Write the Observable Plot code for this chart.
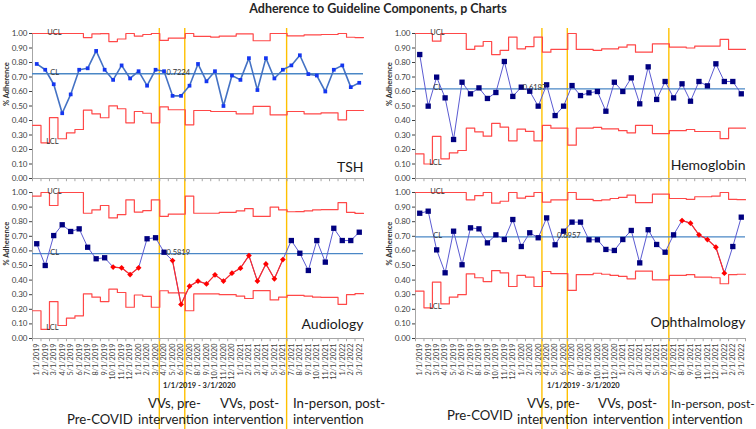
<!DOCTYPE html>
<html><head><meta charset="utf-8">
<script src="https://cdn.jsdelivr.net/npm/d3@7"></script>
<script src="https://cdn.jsdelivr.net/npm/@observablehq/plot@0.6"></script>
<style>
html,body{margin:0;padding:0;background:#fff;}
#chart{position:relative;width:756px;height:429px;overflow:hidden;background:#fff;font-family:Lato,"Open Sans",sans-serif;}
</style></head><body>
<div id="chart"></div>
<script>
// ---------- data ----------
const months = ["1/1/2019","2/1/2019","3/1/2019","4/1/2019","5/1/2019","6/1/2019","7/1/2019","8/1/2019","9/1/2019","10/1/2019","11/1/2019","12/1/2019",
"1/1/2020","2/1/2020","3/1/2020","4/1/2020","5/1/2020","6/1/2020","7/1/2020","8/1/2020","9/1/2020","10/1/2020","11/1/2020","12/1/2020",
"1/1/2021","2/1/2021","3/1/2021","4/1/2021","5/1/2021","6/1/2021","7/1/2021","8/1/2021","9/1/2021","10/1/2021","11/1/2021","12/1/2021",
"1/1/2022","2/1/2022","3/1/2022"];
const yTicks = [0,0.1,0.2,0.3,0.4,0.5,0.6,0.7,0.8,0.9,1.0];
const phaseStarts = ["4/1/2020","7/1/2020","7/1/2021"];

const tshP   = [0.79,0.75,0.65,0.45,0.58,0.75,0.76,0.88,0.75,0.68,0.78,0.69,0.74,0.64,0.75,0.74,0.57,0.57,0.64,0.79,0.67,0.74,0.50,0.71,0.68,0.83,0.61,0.83,0.69,0.75,0.78,0.85,0.72,0.71,0.60,0.75,0.78,0.63,0.66];
const tshUCL = [1,1,1,1,1,1,0.972,0.997,0.999,0.944,0.962,1,0.982,0.993,1,0.952,0.968,0.968,1,0.98,0.98,0.975,0.982,0.982,0.997,0.997,0.95,0.95,1,1,0.984,0.984,0.99,0.99,0.993,0.993,1,0.974,0.972];
const tshLCL = [0.366,0.246,0.42,0.274,0.315,0.338,0.471,0.446,0.419,0.501,0.481,0.384,0.462,0.45,0.384,0.494,0.474,0.474,0.37,0.469,0.469,0.462,0.462,0.462,0.446,0.446,0.497,0.497,0.439,0.439,0.462,0.462,0.446,0.446,0.453,0.453,0.405,0.469,0.469];
const tshCL = 0.7224;
const tshSignal = [];

const audP   = [0.649,0.50,0.705,0.779,0.733,0.751,0.625,0.546,0.553,0.489,0.484,0.438,0.484,0.683,0.69,0.591,0.534,0.233,0.358,0.393,0.374,0.436,0.393,0.447,0.482,0.568,0.393,0.511,0.409,0.541,0.671,0.584,0.466,0.671,0.523,0.755,0.671,0.671,0.728];
const audUCL = [0.975,1,0.911,1,1,1,0.858,0.881,0.911,0.826,0.849,0.95,0.866,0.876,0.95,0.837,0.852,0.852,0.975,0.858,0.858,0.858,0.864,0.864,0.874,0.89,0.836,0.836,0.9,0.881,0.868,0.869,0.874,0.881,0.883,0.883,0.93,0.864,0.857];
const audLCL = [0.19,0.062,0.253,0.089,0.139,0.155,0.306,0.283,0.253,0.338,0.315,0.214,0.298,0.288,0.214,0.327,0.312,0.312,0.19,0.306,0.306,0.306,0.3,0.3,0.29,0.274,0.328,0.328,0.264,0.283,0.296,0.295,0.29,0.283,0.281,0.281,0.234,0.3,0.307];
const audCL = 0.5819;
const audSignal = [9,10,11,12,16,17,18,19,20,21,22,23,24,25,26,27,28,29];

const hgbP   = [0.855,0.499,0.699,0.556,0.269,0.664,0.584,0.625,0.552,0.593,0.807,0.566,0.630,0.602,0.499,0.646,0.434,0.499,0.641,0.572,0.591,0.60,0.464,0.664,0.60,0.694,0.515,0.77,0.545,0.669,0.556,0.653,0.533,0.669,0.639,0.791,0.669,0.669,0.584];
const hgbUCL = [1,1,0.947,1,1,1,0.89,0.913,0.945,0.855,0.883,0.975,0.894,0.91,0.975,0.871,0.89,0.89,1,0.89,0.89,0.883,0.894,0.894,0.906,0.922,0.871,0.871,0.929,0.929,0.906,0.906,0.9,0.913,0.913,0.913,0.959,0.89,0.89];
const hgbLCL = [0.17,0.10,0.29,0.136,0.177,0.193,0.347,0.322,0.292,0.38,0.354,0.26,0.34,0.325,0.26,0.367,0.347,0.347,0.23,0.347,0.347,0.352,0.342,0.342,0.33,0.315,0.367,0.367,0.31,0.31,0.33,0.33,0.338,0.324,0.324,0.324,0.275,0.347,0.347];
const hgbCL = 0.6187;
const hgbSignal = [];

const ophP   = [0.858,0.872,0.607,0.45,0.735,0.505,0.758,0.751,0.655,0.71,0.678,0.815,0.63,0.724,0.69,0.826,0.642,0.735,0.797,0.797,0.676,0.676,0.61,0.603,0.678,0.74,0.518,0.745,0.644,0.591,0.71,0.808,0.79,0.71,0.678,0.625,0.447,0.63,0.831];
const ophUCL = [1,1,1,1,1,1,0.95,0.979,1,0.927,0.94,1,0.961,0.973,1,0.934,0.95,0.95,1,0.953,0.953,0.944,0.95,0.959,0.966,0.982,0.93,0.93,0.989,0.989,0.959,0.959,0.953,0.971,0.971,0.975,1,0.953,0.951];
const ophLCL = [0.324,0.21,0.386,0.237,0.283,0.301,0.443,0.416,0.39,0.465,0.45,0.356,0.432,0.42,0.356,0.459,0.445,0.445,0.329,0.438,0.438,0.447,0.44,0.432,0.425,0.409,0.461,0.461,0.402,0.402,0.432,0.432,0.438,0.42,0.42,0.416,0.375,0.438,0.44];
const ophCL = 0.6957;
const ophSignal = [31,32,33,34,35,36];

// ---------- layout ----------
const chart = document.getElementById("chart");
const overlay = d3.select(chart).append("svg")
  .attr("width",756).attr("height",429)
  .style("position","absolute").style("left","0px").style("top","0px");

const cols = [{left:0, marginLeft:32, marginRight:15}, {left:378, marginLeft:37, marginRight:11}];
const rowsCfg = [{top:25, height:159, marginBottom:6, axis:false}, {top:184, height:199, marginBottom:45, axis:true}];

const panels = [
  {name:"TSH", col:0, row:0, p:tshP, ucl:tshUCL, lcl:tshLCL, cl:tshCL, sig:tshSignal, clAt:15, clDx:2.5, titleDy:7,
   lineColor:"#4472c4", lineWidth:1.6, dotColor:"#1436f0", r:2.1},
  {name:"Audiology", col:0, row:1, p:audP, ucl:audUCL, lcl:audLCL, cl:audCL, sig:audSignal, clAt:15, clDx:2.5, titleDy:10,
   lineColor:"#5b5bd2", lineWidth:1, dotColor:"#000080", r:3},
  {name:"Hemoglobin", col:1, row:0, p:hgbP, ucl:hgbUCL, lcl:hgbLCL, cl:hgbCL, sig:hgbSignal, clAt:12, clDx:1.5, titleDy:9,
   lineColor:"#5b5bd2", lineWidth:1, dotColor:"#000080", r:3},
  {name:"Ophthalmology", col:1, row:1, p:ophP, ucl:ophUCL, lcl:ophLCL, cl:ophCL, sig:ophSignal, clAt:16, clDx:2, titleDy:12,
   lineColor:"#5b5bd2", lineWidth:1, dotColor:"#000080", r:3}
];

const xScales = [null, null];

for (const P of panels) {
  const col = cols[P.col], row = rowsCfg[P.row];
  const n = months.length;
  const rows = months.map((m,i)=>({i, m, p:P.p[i], ucl:P.ucl[i], lcl:P.lcl[i], sig:P.sig.includes(i)}));
  const steps = rows.map(d=>({x:d.i-0.5, ucl:d.ucl, lcl:d.lcl}));
  steps.push({x:n-0.5, ucl:P.ucl[n-1], lcl:P.lcl[n-1]});
  const bounds = d3.range(n+1).map(k=>k-0.5);
  const small = {fontSize:7.5, fill:"#333", textAnchor:"start", lineAnchor:"bottom"};
  const plot = Plot.plot({
    width:378, height:row.height,
    marginLeft:col.marginLeft, marginRight:col.marginRight, marginTop:8, marginBottom:row.marginBottom,
    style:{background:"transparent", overflow:"visible", fontFamily:"Lato, sans-serif", fontSize:"8px", color:"#404040"},
    x:{type:"linear", domain:[-0.5, n-0.5], axis: row.axis ? "bottom" : null, ticks:d3.range(n), tickFormat:i=>months[i],
       tickRotate:-90, tickSize:0, tickPadding:5, label:null},
    y:{domain:[0,1], ticks:yTicks, tickFormat:d=>d.toFixed(2), tickSize:3, tickPadding:2, label:null},
    marks:[
      Plot.ruleX([-0.5], {stroke:"#a6a6a6"}),
      Plot.ruleY([0], {stroke:"#a6a6a6"}),
      Plot.ruleX(bounds, {x:d=>d, y1:0, y2:-0.022, stroke:"#a6a6a6"}),
      Plot.line(steps, {x:"x", y:"ucl", curve:"step-after", stroke:"#ff4848", strokeWidth:1.2}),
      Plot.line(steps, {x:"x", y:"lcl", curve:"step-after", stroke:"#ff4848", strokeWidth:1.2}),
      Plot.ruleY([P.cl], {stroke:"#4a87c6", strokeWidth:1.3}),
      Plot.line(rows, {x:"i", y:"p", stroke:P.lineColor, strokeWidth:P.lineWidth}),
      Plot.line(rows, {x:"i", y:d=>d.sig ? d.p : NaN, stroke:"#ff2a2a", strokeWidth:1.2}),
      Plot.dot(rows.filter(d=>!d.sig), {x:"i", y:"p", symbol:"square", r:P.r, fill:P.dotColor}),
      Plot.dot(rows.filter(d=>d.sig), {x:"i", y:"p", symbol:"diamond2", r:2.6, fill:"#ff0000"}),
      Plot.text([{x:1, y:P.ucl[1], t:"UCL"}], {x:"x", y:"y", text:"t", dx:2, dy:1, ...small}),
      Plot.text([{x:1, y:P.cl, t:"CL"}], {x:"x", y:"y", text:"t", dx:5, dy:1, ...small}),
      Plot.text([{x:1, y:P.lcl[1], t:"LCL"}], {x:"x", y:"y", text:"t", dx:1, dy:1, ...small}),
      Plot.text([{x:P.clAt, y:P.cl, t:P.cl.toFixed(4)}], {x:"x", y:"y", text:"t", dx:P.clDx, dy:1, ...small}),
      Plot.text([{t:P.name}], {frameAnchor:"bottom-right", text:"t", dy:-P.titleDy, fontSize:14, textAnchor:"end", lineAnchor:"bottom", fill:"#1a1a1a"}),
      Plot.text([{t:"% Adherence"}], {frameAnchor:"left", text:"t", rotate:-90, dx:-26, fontSize:7.5, fontWeight:"bold", fill:"#333"})
    ]
  });
  plot.style.position = "absolute";
  plot.style.left = col.left + "px";
  plot.style.top = row.top + "px";
  d3.select(plot).selectAll('g[aria-label="x-axis tick label"]').attr("font-size", 7.3);
  chart.appendChild(plot);
  if (!xScales[P.col]) xScales[P.col] = plot.scale("x");
}

// phase separator lines (gold), positioned via each column's x scale
cols.forEach((col, ci) => {
  const sx = xScales[ci];
  for (const m of phaseStarts) {
    const x = col.left + sx.apply(months.indexOf(m) - 0.5);
    overlay.append("line").attr("x1",x).attr("x2",x).attr("y1",28).attr("y2",429)
      .attr("stroke","#ffc000").attr("stroke-width",1.4);
  }
});

// title
overlay.append("text").attr("x",378).attr("y",13).attr("text-anchor","middle")
  .attr("font-family","Lato, sans-serif").attr("font-weight","bold").attr("font-size",12.5).attr("fill","#262626")
  .text("Adherence to Guideline Components, p Charts");

// period annotations
const periodText = [
  // left column
  {x:67, y:424, t:"Pre-COVID", s:13.2},
  {x:148, y:408, t:"VVs, pre-", s:13.2}, {x:138, y:424, t:"intervention", s:13.2},
  {x:220, y:408, t:"VVs, post-", s:13.2}, {x:213, y:424, t:"intervention", s:13.2},
  {x:293, y:408, t:"In-person, post-", s:13.2}, {x:293, y:424, t:"intervention", s:13.2},
  // right column
  {x:447, y:420, t:"Pre-COVID", s:13.2},
  {x:527, y:408, t:"VVs, pre-", s:13.2}, {x:517, y:424, t:"intervention", s:13.2},
  {x:598, y:408, t:"VVs, post-", s:13.2}, {x:593, y:424, t:"intervention", s:13.2},
  {x:671, y:408, t:"In-person, post-", s:12}, {x:672, y:424, t:"intervention", s:13.2}
];
overlay.selectAll("text.period").data(periodText).join("text").attr("class","period")
  .attr("x",d=>d.x).attr("y",d=>d.y).attr("font-family","Lato, sans-serif").attr("font-size",d=>d.s).attr("fill","#1a1a1a")
  .text(d=>d.t);

const baseline = [{x:163, y:388}, {x:547, y:388}];
overlay.selectAll("text.base").data(baseline).join("text").attr("class","base")
  .attr("x",d=>d.x).attr("y",d=>d.y).attr("font-family","Lato, sans-serif").attr("font-size",7.5).attr("font-weight","bold").attr("fill","#262626")
  .text("1/1/2019 - 3/1/2020");
</script>
</body></html>
